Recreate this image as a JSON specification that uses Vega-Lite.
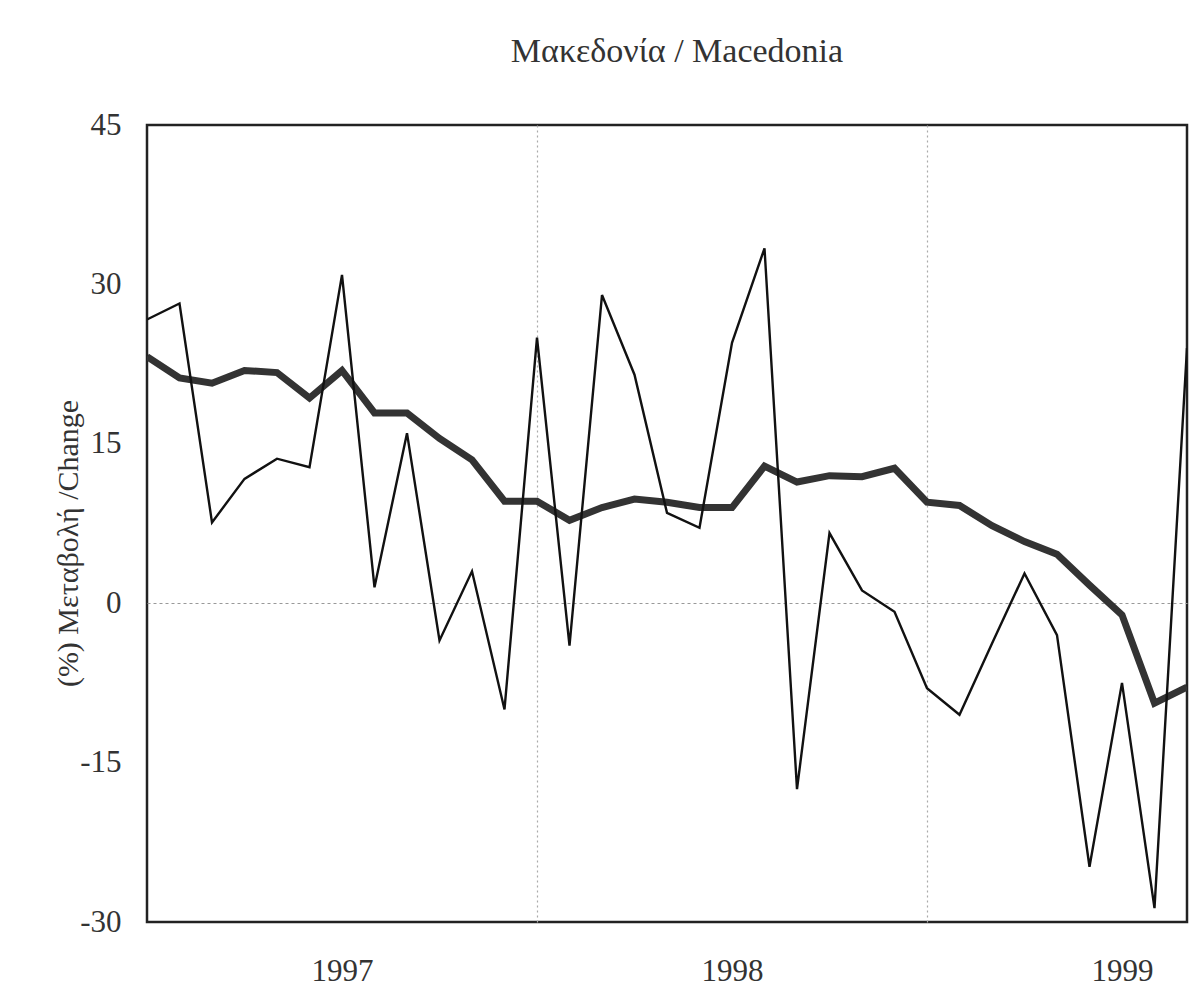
{
  "$schema": "https://vega.github.io/schema/vega-lite/v6.json",
  "width": 1040,
  "height": 797,
  "autosize": {"type": "none"},
  "padding": {"left": 147, "top": 125, "right": 3, "bottom": 78},
  "background": "white",
  "title": {
    "text": "Μακεδονία / Macedonia",
    "font": "Liberation Serif",
    "fontSize": 34,
    "fontWeight": "normal",
    "color": "#333",
    "anchor": "middle",
    "dx": 10,
    "offset": 40
  },
  "config": {
    "view": {"stroke": "#222", "strokeWidth": 2.5},
    "axis": {
      "labelFont": "Liberation Serif",
      "titleFont": "Liberation Serif",
      "labelColor": "#333",
      "titleColor": "#333",
      "domain": false,
      "ticks": false
    }
  },
  "data": {
    "values": [
      {"m": 0, "monthly": 26.7, "trend": 23.2},
      {"m": 1, "monthly": 28.2, "trend": 21.2},
      {"m": 2, "monthly": 7.6, "trend": 20.7},
      {"m": 3, "monthly": 11.7, "trend": 21.9},
      {"m": 4, "monthly": 13.6, "trend": 21.7},
      {"m": 5, "monthly": 12.8, "trend": 19.3},
      {"m": 6, "monthly": 30.9, "trend": 21.9},
      {"m": 7, "monthly": 1.5, "trend": 17.9},
      {"m": 8, "monthly": 16.0, "trend": 17.9},
      {"m": 9, "monthly": -3.5, "trend": 15.5},
      {"m": 10, "monthly": 3.0, "trend": 13.5},
      {"m": 11, "monthly": -10.0, "trend": 9.6},
      {"m": 12, "monthly": 25.0, "trend": 9.6},
      {"m": 13, "monthly": -4.0, "trend": 7.8},
      {"m": 14, "monthly": 29.0, "trend": 9.0},
      {"m": 15, "monthly": 21.5, "trend": 9.8},
      {"m": 16, "monthly": 8.5, "trend": 9.5},
      {"m": 17, "monthly": 7.1, "trend": 9.0},
      {"m": 18, "monthly": 24.5, "trend": 9.0},
      {"m": 19, "monthly": 33.4, "trend": 12.9},
      {"m": 20, "monthly": -17.5, "trend": 11.4},
      {"m": 21, "monthly": 6.6, "trend": 12.0},
      {"m": 22, "monthly": 1.2, "trend": 11.9},
      {"m": 23, "monthly": -0.8, "trend": 12.7},
      {"m": 24, "monthly": -8.0, "trend": 9.5},
      {"m": 25, "monthly": -10.5, "trend": 9.2},
      {"m": 26, "monthly": -3.8, "trend": 7.3},
      {"m": 27, "monthly": 2.8, "trend": 5.8},
      {"m": 28, "monthly": -3.0, "trend": 4.6},
      {"m": 29, "monthly": -24.8, "trend": 1.7},
      {"m": 30, "monthly": -7.5, "trend": -1.1},
      {"m": 31, "monthly": -28.7, "trend": -9.4},
      {"m": 32, "monthly": 24.0, "trend": -7.9}
    ]
  },
  "encoding": {
    "x": {
      "field": "m",
      "type": "quantitative",
      "scale": {"domain": [0, 32], "nice": false, "zero": false},
      "axis": {
        "title": null,
        "values": [6, 12, 18, 24, 30],
        "labelExpr": "datum.value % 12 == 6 ? '' + (1997 + floor(datum.value / 12)) : ''",
        "labelFontSize": 31,
        "labelPadding": 34,
        "labelBaseline": "top",
        "grid": true,
        "gridColor": "#aaa",
        "gridDash": [2, 3],
        "gridWidth": 1.2,
        "gridOpacity": {"condition": {"test": "datum.value % 12 == 0", "value": 1}, "value": 0}
      }
    }
  },
  "layer": [
    {
      "mark": {"type": "line", "color": "#333", "strokeWidth": 7, "strokeJoin": "miter", "clip": true},
      "encoding": {
        "y": {
          "field": "trend",
          "type": "quantitative",
          "scale": {"domain": [-30, 45], "nice": false, "zero": false},
          "axis": {
            "title": "(%) Μεταβολή /Change",
            "values": [-30, -15, 0, 15, 30, 45],
            "labelExpr": "'' + datum.value",
            "labelFontSize": 31,
            "labelPadding": 26,
            "titleFontSize": 30,
            "titleFontWeight": "normal",
            "titleAngle": -90,
            "titleAlign": "center",
            "titleBaseline": "middle",
            "titleX": -79,
            "titleY": 418,
            "grid": true,
            "gridColor": "#999",
            "gridDash": [3, 3],
            "gridWidth": 1.2,
            "gridOpacity": {"condition": {"test": "datum.value == 0", "value": 1}, "value": 0}
          }
        }
      }
    },
    {
      "mark": {"type": "line", "color": "#111", "strokeWidth": 2.4, "strokeJoin": "miter", "clip": true},
      "encoding": {
        "y": {"field": "monthly", "type": "quantitative"}
      }
    }
  ]
}
